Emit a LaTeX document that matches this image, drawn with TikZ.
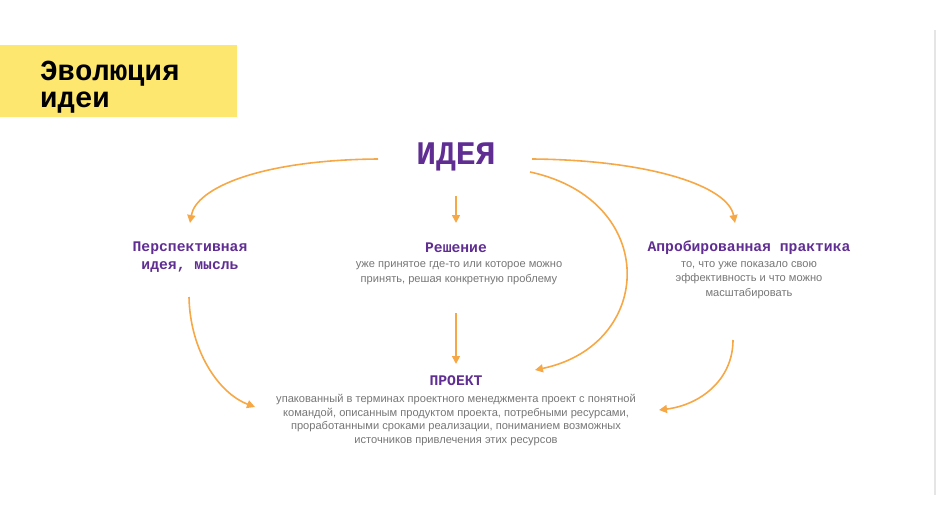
\documentclass[tikz,border=0pt]{standalone}
\usepackage{fontspec}
\setmainfont{Liberation Sans}
\newfontfamily\monob{Liberation Mono}[BoldFont={Liberation Mono Bold}]
\usetikzlibrary{arrows.meta}

\definecolor{titleyellow}{RGB}{253,231,110}
\definecolor{ideapurple}{RGB}{96,46,146}
\definecolor{descgray}{RGB}{118,118,118}
\definecolor{arrorange}{RGB}{246,168,70}

\tikzset{
	arr/.style={draw=arrorange, line width=1.6pt, -{Triangle[length=8pt,width=8pt]}},
	head/.style={font=\monob\bfseries\fontsize{14.7}{18}\selectfont, text=ideapurple, align=center, inner sep=0pt},
	descr/.style={font=\fontsize{11.1}{14.6}\selectfont, text=descgray, align=center, inner sep=0pt}
}

\begin{document}
\begin{tikzpicture}[x=1pt,y=-1pt]
			\useasboundingbox (0,0) rectangle (937,527);
			\fill[titleyellow] (0,45) rectangle (237,117);
			\draw[black!10, line width=2pt] (935,30) -- (935,495);
			\node[anchor=north west, inner sep=0pt, align=left, font=\monob\bfseries\fontsize{29}{27}\selectfont] (title) at (40,61) {Эволюция\\идеи};
			\node[font=\monob\bfseries\fontsize{33}{36}\selectfont, text=ideapurple, inner sep=0pt] (idea) at (456,157) {ИДЕЯ};
			% три ветви
			\node[head] (persp) at (190,257) {Перспективная\\идея, мысль};
			\node[head] (decision) at (456,248) {Решение};
			\node[descr] (decisiontxt) at (459,273) {уже принятое где-то или которое можно\\принять, решая конкретную проблему};
			\node[head] (practice) at (749,248) {Апробированная практика};
			\node[descr] (practicetxt) at (749,280) {то, что уже показало свою\\эффективность и что можно\\масштабировать};
			% итог
			\node[head] (project) at (456,381) {ПРОЕКТ};
			\node[descr, font=\fontsize{11.1}{13.5}\selectfont] (projecttxt) at (456,420) {упакованный в терминах проектного менеджмента проект с понятной\\командой, описанным продуктом проекта, потребными ресурсами,\\проработанными сроками реализации, пониманием возможных\\источников привлечения этих ресурсов};
			\coordinate (ideaL) at (378,159);
			\coordinate (ideaR) at (532,159);
			\coordinate (ideaRB) at (530,172);
			\coordinate (ideaB) at (456,196);
			\coordinate (perspIn) at (190,223);
			\coordinate (decisionIn) at (456,223);
			\coordinate (practiceIn) at (735,223);
			\coordinate (perspOut) at (189,297);
			\coordinate (decisionOut) at (456,313);
			\coordinate (practiceOut) at (733,340);
			\coordinate (projectL) at (255,407);
			\coordinate (projectT) at (456,364);
			\coordinate (projectTR) at (535,370);
			\coordinate (projectR) at (659,410);
			\draw[arr] (ideaL) .. controls (260,160) and (196,188) .. (perspIn);
			\draw[arr] (ideaB) -- (decisionIn);
			\draw[arr] (ideaR) .. controls (650,160) and (728,186) .. (practiceIn);
			\draw[arr] (ideaRB) .. controls (660,200) and (655,345) .. (projectTR);
			\draw[arr] (perspOut) .. controls (190,350) and (218,393) .. (projectL);
			\draw[arr] (decisionOut) -- (projectT);
			\draw[arr] (practiceOut) .. controls (733,380) and (700,405) .. (projectR);
		\end{tikzpicture}
\end{document}
